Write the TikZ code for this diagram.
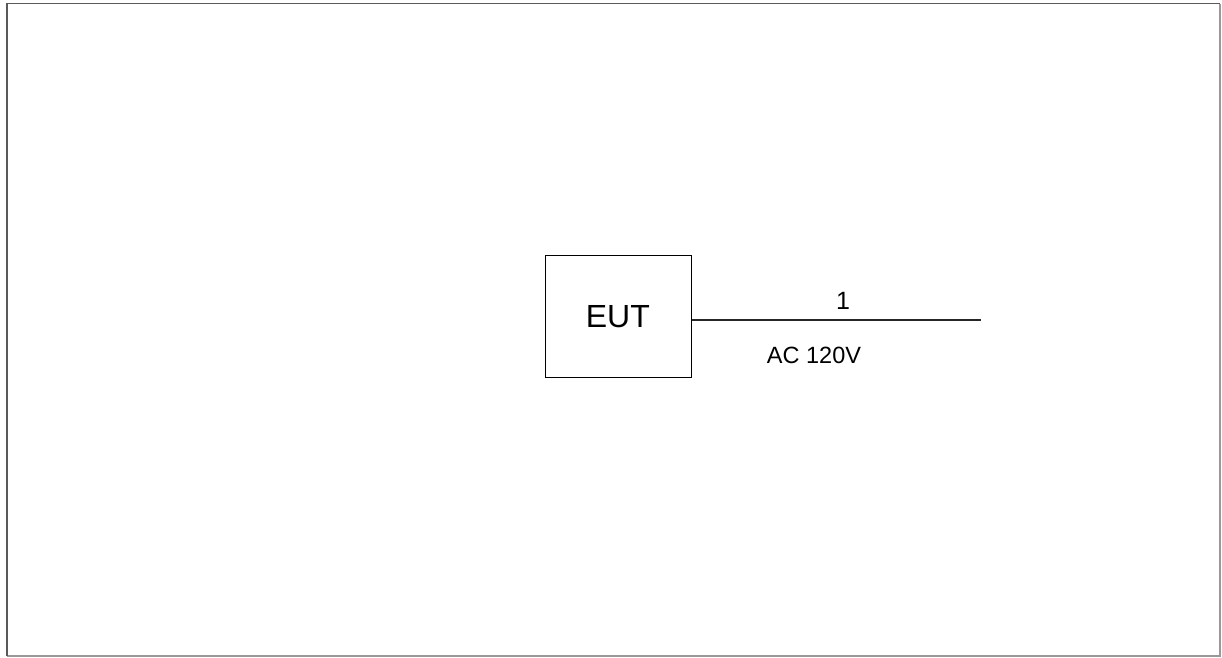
\documentclass[tikz,border=0pt]{standalone}
\usepackage{fontspec}
\setmainfont{Liberation Sans}
\begin{document}
\begin{tikzpicture}[x=1pt,y=-1pt,
  framedark/.style={draw=black!65,line width=1.6pt},
  framelight/.style={draw=black!40,line width=1.5pt},
  eutbox/.style={draw=black,line width=1.3pt,minimum width=146pt,minimum height=122pt,inner sep=0pt},
  wire/.style={draw=black!85,line width=1.3pt},
  lbl/.style={inner sep=0pt,anchor=center}]
\useasboundingbox (0,0) rectangle (1222,657);
\draw[framelight] (7,655.8) -- (1220.2,655.8) -- (1220.2,3.5);
\draw[framedark] (7,655.8) -- (7,3.5) -- (1220.2,3.5);
\node[eutbox] (eut) at (618.6,316.8) {};
\node[lbl,font=\fontsize{32}{36}\selectfont] (eutt) at (617.8,316.8) {EUT};
\coordinate (wend) at (980.7,320);
\draw[wire] (eut.east |- wend) -- (wend);
\node[lbl,font=\fontsize{25}{28}\selectfont] (one) at (843,301) {1};
\node[lbl,font=\fontsize{23.5}{28}\selectfont] (ac) at (814,355) {AC 120V};
\end{tikzpicture}
\end{document}
